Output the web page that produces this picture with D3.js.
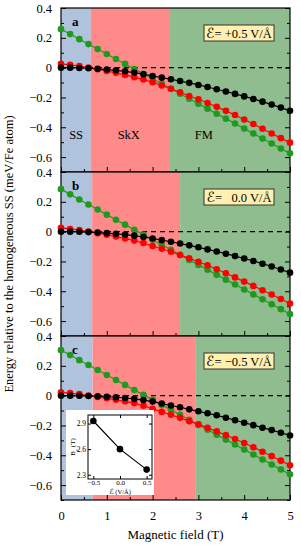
<!DOCTYPE html>
<html>
<head>
<meta charset="utf-8">
<script src="https://cdn.jsdelivr.net/npm/d3@7"></script>
<style>
  body { margin: 0; background: #fff; }
  svg text { font-family: "Liberation Serif", "DejaVu Serif", serif; fill: #000; }
  .script-e { font-family: "DejaVu Serif", "DejaVu Sans", serif; font-style: italic; }
</style>
</head>
<body>
<div id="chart"></div>
<script>
// magnetic field values (T)
const fieldT = [0, 0.2, 0.4, 0.6, 0.8, 1.0, 1.2, 1.4, 1.6, 1.8, 2.0, 2.2, 2.4, 2.6, 2.8, 3.0, 3.2, 3.4, 3.6, 3.8, 4.0, 4.2, 4.4, 4.6, 4.8, 5.0];

const panelLetters = ["a", "b", "c"];
const efieldLabels = ["+0.5", "\u00a0\u00a00.0", "\u22120.5"];

// panel a, E = +0.5 V/A
const blackA = [0, 0, -0.002, -0.004, -0.008, -0.013, -0.018, -0.025, -0.033, -0.044, -0.056, -0.067, -0.078, -0.09, -0.102, -0.116, -0.13, -0.145, -0.16, -0.176, -0.193, -0.21, -0.228, -0.248, -0.268, -0.29];
const redA = [0.025, 0.019, 0.011, 0.0, -0.011, -0.023, -0.035, -0.049, -0.064, -0.08, -0.098, -0.12, -0.142, -0.165, -0.19, -0.212, -0.237, -0.263, -0.29, -0.318, -0.348, -0.378, -0.41, -0.442, -0.473, -0.503];
const greenA = [0.258, 0.225, 0.191, 0.158, 0.125, 0.091, 0.058, 0.025, -0.009, -0.042, -0.075, -0.109, -0.142, -0.175, -0.209, -0.242, -0.275, -0.309, -0.342, -0.375, -0.409, -0.442, -0.475, -0.509, -0.542, -0.575];

// panel b, E = 0.0 V/A
const blackB = [0, 0, -0.001, -0.003, -0.006, -0.01, -0.015, -0.02, -0.027, -0.036, -0.046, -0.057, -0.068, -0.08, -0.092, -0.105, -0.119, -0.133, -0.148, -0.164, -0.18, -0.197, -0.215, -0.234, -0.254, -0.275];
const redB = [0.025, 0.018, 0.01, 0.0, -0.01, -0.021, -0.033, -0.046, -0.06, -0.076, -0.096, -0.115, -0.135, -0.157, -0.179, -0.202, -0.226, -0.252, -0.279, -0.307, -0.335, -0.364, -0.393, -0.422, -0.452, -0.482];
const greenB = [0.285, 0.25, 0.216, 0.182, 0.148, 0.114, 0.08, 0.047, 0.013, -0.02, -0.054, -0.088, -0.122, -0.156, -0.19, -0.223, -0.256, -0.289, -0.322, -0.355, -0.388, -0.421, -0.454, -0.487, -0.52, -0.553];

// panel c, E = -0.5 V/A
const blackC = [0, 0, -0.001, -0.002, -0.004, -0.007, -0.011, -0.016, -0.022, -0.03, -0.04, -0.053, -0.066, -0.078, -0.092, -0.105, -0.118, -0.132, -0.148, -0.165, -0.182, -0.198, -0.215, -0.231, -0.249, -0.267];
const redC = [0.022, 0.017, 0.01, 0.0, -0.009, -0.018, -0.028, -0.038, -0.05, -0.068, -0.089, -0.109, -0.128, -0.149, -0.171, -0.193, -0.216, -0.24, -0.265, -0.291, -0.318, -0.346, -0.376, -0.406, -0.436, -0.467];
const greenC = [0.305, 0.272, 0.238, 0.205, 0.172, 0.138, 0.105, 0.072, 0.038, 0.005, -0.028, -0.062, -0.095, -0.128, -0.162, -0.195, -0.228, -0.262, -0.295, -0.328, -0.362, -0.395, -0.428, -0.462, -0.495, -0.528];

// phase boundaries (T) for each panel
const ssSkxBoundary = [0.65, 0.68, 0.69];
const skxFmBoundary = [2.36, 2.6, 2.93];

// inset: critical field vs electric field
const insetEfield = [-0.5, 0.0, 0.5];
const insetBc = [2.93, 2.6, 2.36];

const panels = [
  {black: blackA, red: redA, green: greenA},
  {black: blackB, red: redB, green: greenB},
  {black: blackC, red: redC, green: greenC}
];

const W = 301, H = 548;
const margin = {left: 61, right: 11, top: 8};
const plotW = W - margin.left - margin.right;
const panelH = 164;

const svg = d3.select("#chart").append("svg")
  .attr("width", W).attr("height", H);

const x = d3.scaleLinear().domain([0, 5]).range([0, plotW]);
const y = d3.scaleLinear().domain([-0.7, 0.4]).range([panelH, 0]);

const phaseColors = {ss: "#afc3dd", skx: "#ff8a8a", fm: "#8fbd8f"};
const lineColors = {black: "#000000", red: "#ff0000", green: "#1f9a1f"};

const line = d3.line().x((d, i) => x(fieldT[i])).y(d => y(d));

panels.forEach((p, k) => {
  const g = svg.append("g")
    .attr("transform", "translate(" + margin.left + "," + (margin.top + k * panelH) + ")");

  // phase regions
  const regions = [
    {from: 0, to: ssSkxBoundary[k], c: phaseColors.ss},
    {from: ssSkxBoundary[k], to: skxFmBoundary[k], c: phaseColors.skx},
    {from: skxFmBoundary[k], to: 5, c: phaseColors.fm}
  ];
  g.selectAll("rect.region").data(regions).join("rect")
    .attr("class", "region")
    .attr("x", d => x(d.from))
    .attr("width", d => x(d.to) - x(d.from))
    .attr("y", 0).attr("height", panelH)
    .attr("fill", d => d.c);

  // zero reference
  g.append("line")
    .attr("x1", x(0)).attr("x2", x(5))
    .attr("y1", y(0)).attr("y2", y(0))
    .attr("stroke", "#000").attr("stroke-width", 1.1)
    .attr("stroke-dasharray", "5,4");

  // axes with inward ticks
  const yMajor = [-0.6, -0.4, -0.2, 0, 0.2, 0.4];
  const yMinor = d3.range(-7, 5).map(v => v / 10).filter(v => !yMajor.some(m => Math.abs(m - v) < 1e-9));
  const fmtY = d => Math.abs(d) < 1e-9 ? "0" : d3.format(".1f")(d);

  g.append("g").call(d3.axisLeft(y).tickValues(yMajor).tickSize(-5).tickFormat(fmtY).tickPadding(9))
    .call(a => a.select(".domain").remove())
    .call(a => a.selectAll("text").style("font-size", "12.5px"));
  g.append("g").call(d3.axisLeft(y).tickValues(yMinor).tickSize(-3).tickFormat(""))
    .call(a => a.select(".domain").remove());
  g.append("g").attr("transform", "translate(" + plotW + ",0)")
    .call(d3.axisRight(y).tickValues(yMajor).tickSize(-5).tickFormat(""))
    .call(a => a.select(".domain").remove());
  g.append("g").attr("transform", "translate(" + plotW + ",0)")
    .call(d3.axisRight(y).tickValues(yMinor).tickSize(-3).tickFormat(""))
    .call(a => a.select(".domain").remove());

  g.append("g").attr("transform", "translate(0," + panelH + ")")
    .call(d3.axisBottom(x).tickValues([0, 1, 2, 3, 4, 5]).tickSize(-5).tickPadding(11)
      .tickFormat(k === 2 ? d3.format("d") : ""))
    .call(a => a.select(".domain").remove())
    .call(a => a.selectAll("text").style("font-size", "12.5px"));
  g.append("g").attr("transform", "translate(0," + panelH + ")")
    .call(d3.axisBottom(x).tickValues([0.5, 1.5, 2.5, 3.5, 4.5]).tickSize(-3).tickFormat(""))
    .call(a => a.select(".domain").remove());

  g.append("rect")
    .attr("x", 0).attr("y", 0).attr("width", plotW).attr("height", panelH)
    .attr("fill", "none").attr("stroke", "#000").attr("stroke-width", 1.2);

  // series
  ["green", "red", "black"].forEach(key => {
    g.append("path").datum(p[key])
      .attr("d", line)
      .attr("fill", "none")
      .attr("stroke", lineColors[key])
      .attr("stroke-width", 1.2);
    g.selectAll("circle." + key).data(p[key]).join("circle")
      .attr("class", key)
      .attr("cx", (d, i) => x(fieldT[i]))
      .attr("cy", d => y(d))
      .attr("r", 3.3)
      .attr("fill", lineColors[key]);
  });

  // panel letter
  g.append("text")
    .attr("x", 11).attr("y", 18)
    .style("font-size", "13px").style("font-weight", "bold")
    .text(panelLetters[k]);

  // field label box
  const box = g.append("g").attr("transform", "translate(143,17)");
  box.append("rect")
    .attr("width", 70).attr("height", 16)
    .attr("fill", "#fff0b0").attr("stroke", "#333").attr("stroke-width", 1);
  const lbl = box.append("text")
    .attr("x", 35).attr("y", 12.5)
    .attr("text-anchor", "middle")
    .style("font-size", "12.5px");
  lbl.append("tspan").attr("class", "script-e").style("font-size", "14px").text("\u2130");
  lbl.append("tspan").text("= " + efieldLabels[k] + " V/\u00c5");

  if (k === 0) {
    const phaseLabels = [
      {t: "SS", v: 0.33},
      {t: "SkX", v: 1.48},
      {t: "FM", v: 3.12}
    ];
    g.selectAll("text.phase").data(phaseLabels).join("text")
      .attr("class", "phase")
      .attr("x", d => x(d.v)).attr("y", 131)
      .attr("text-anchor", "middle")
      .style("font-size", "12.5px")
      .text(d => d.t);
  }

  if (k === 2) drawInset(g);
});

function drawInset(g) {
  const ig = g.append("g").attr("transform", "translate(5,74)");
  ig.append("rect")
    .attr("width", 88).attr("height", 85)
    .attr("fill", "#fff");

  const ix = d3.scaleLinear().domain([-0.6, 0.6]).range([22, 86]);
  const iy = d3.scaleLinear().domain([2.25, 3.0]).range([69, 5]);

  ig.append("g").attr("transform", "translate(0,69)")
    .call(d3.axisBottom(ix).tickValues([-0.5, 0, 0.5]).tickSize(-3).tickPadding(1)
      .tickFormat(d3.format(".1f")))
    .call(a => a.select(".domain").remove())
    .call(a => a.selectAll("text").style("font-size", "7px"));
  ig.append("g").attr("transform", "translate(22,0)")
    .call(d3.axisLeft(iy).tickValues([2.3, 2.6, 2.9]).tickSize(-3).tickPadding(2)
      .tickFormat(d3.format(".1f")))
    .call(a => a.select(".domain").remove())
    .call(a => a.selectAll("text").style("font-size", "7.5px"));
  ig.append("g").attr("transform", "translate(86,0)")
    .call(d3.axisRight(iy).tickValues([2.3, 2.6, 2.9]).tickSize(-3).tickFormat(""))
    .call(a => a.select(".domain").remove());
  ig.append("g").attr("transform", "translate(0,5)")
    .call(d3.axisTop(ix).tickValues([-0.5, 0, 0.5]).tickSize(-3).tickFormat(""))
    .call(a => a.select(".domain").remove());

  ig.append("rect")
    .attr("x", 22).attr("y", 5).attr("width", 64).attr("height", 64)
    .attr("fill", "none").attr("stroke", "#000").attr("stroke-width", 1);

  const iline = d3.line().x((d, i) => ix(insetEfield[i])).y(d => iy(d));
  ig.append("path").datum(insetBc)
    .attr("d", iline).attr("fill", "none")
    .attr("stroke", "#000").attr("stroke-width", 1.2);
  ig.selectAll("circle").data(insetBc).join("circle")
    .attr("cx", (d, i) => ix(insetEfield[i]))
    .attr("cy", d => iy(d))
    .attr("r", 3.3).attr("fill", "#000");

  ig.append("text")
    .attr("transform", "translate(9,37) rotate(-90)")
    .attr("text-anchor", "middle")
    .style("font-size", "7px")
    .html("B<tspan baseline-shift='sub' font-size='5px'>c</tspan> (T)");
  const xl = ig.append("text")
    .attr("x", 54).attr("y", 83.5)
    .attr("text-anchor", "middle")
    .style("font-size", "6.5px");
  xl.append("tspan").attr("class", "script-e").style("font-size", "7.5px").text("\u2130");
  xl.append("tspan").text(" (V/\u00c5)");
}

// axis titles
svg.append("text")
  .attr("transform", "translate(13," + (margin.top + 1.5 * panelH) + ") rotate(-90)")
  .attr("text-anchor", "middle")
  .style("font-size", "12.5px")
  .text("Energy relative to the homogeneous SS (meV/Fe atom)");

svg.append("text")
  .attr("x", margin.left + plotW / 2).attr("y", 539)
  .attr("text-anchor", "middle")
  .style("font-size", "13px")
  .text("Magnetic field (T)");
</script>
</body>
</html>
